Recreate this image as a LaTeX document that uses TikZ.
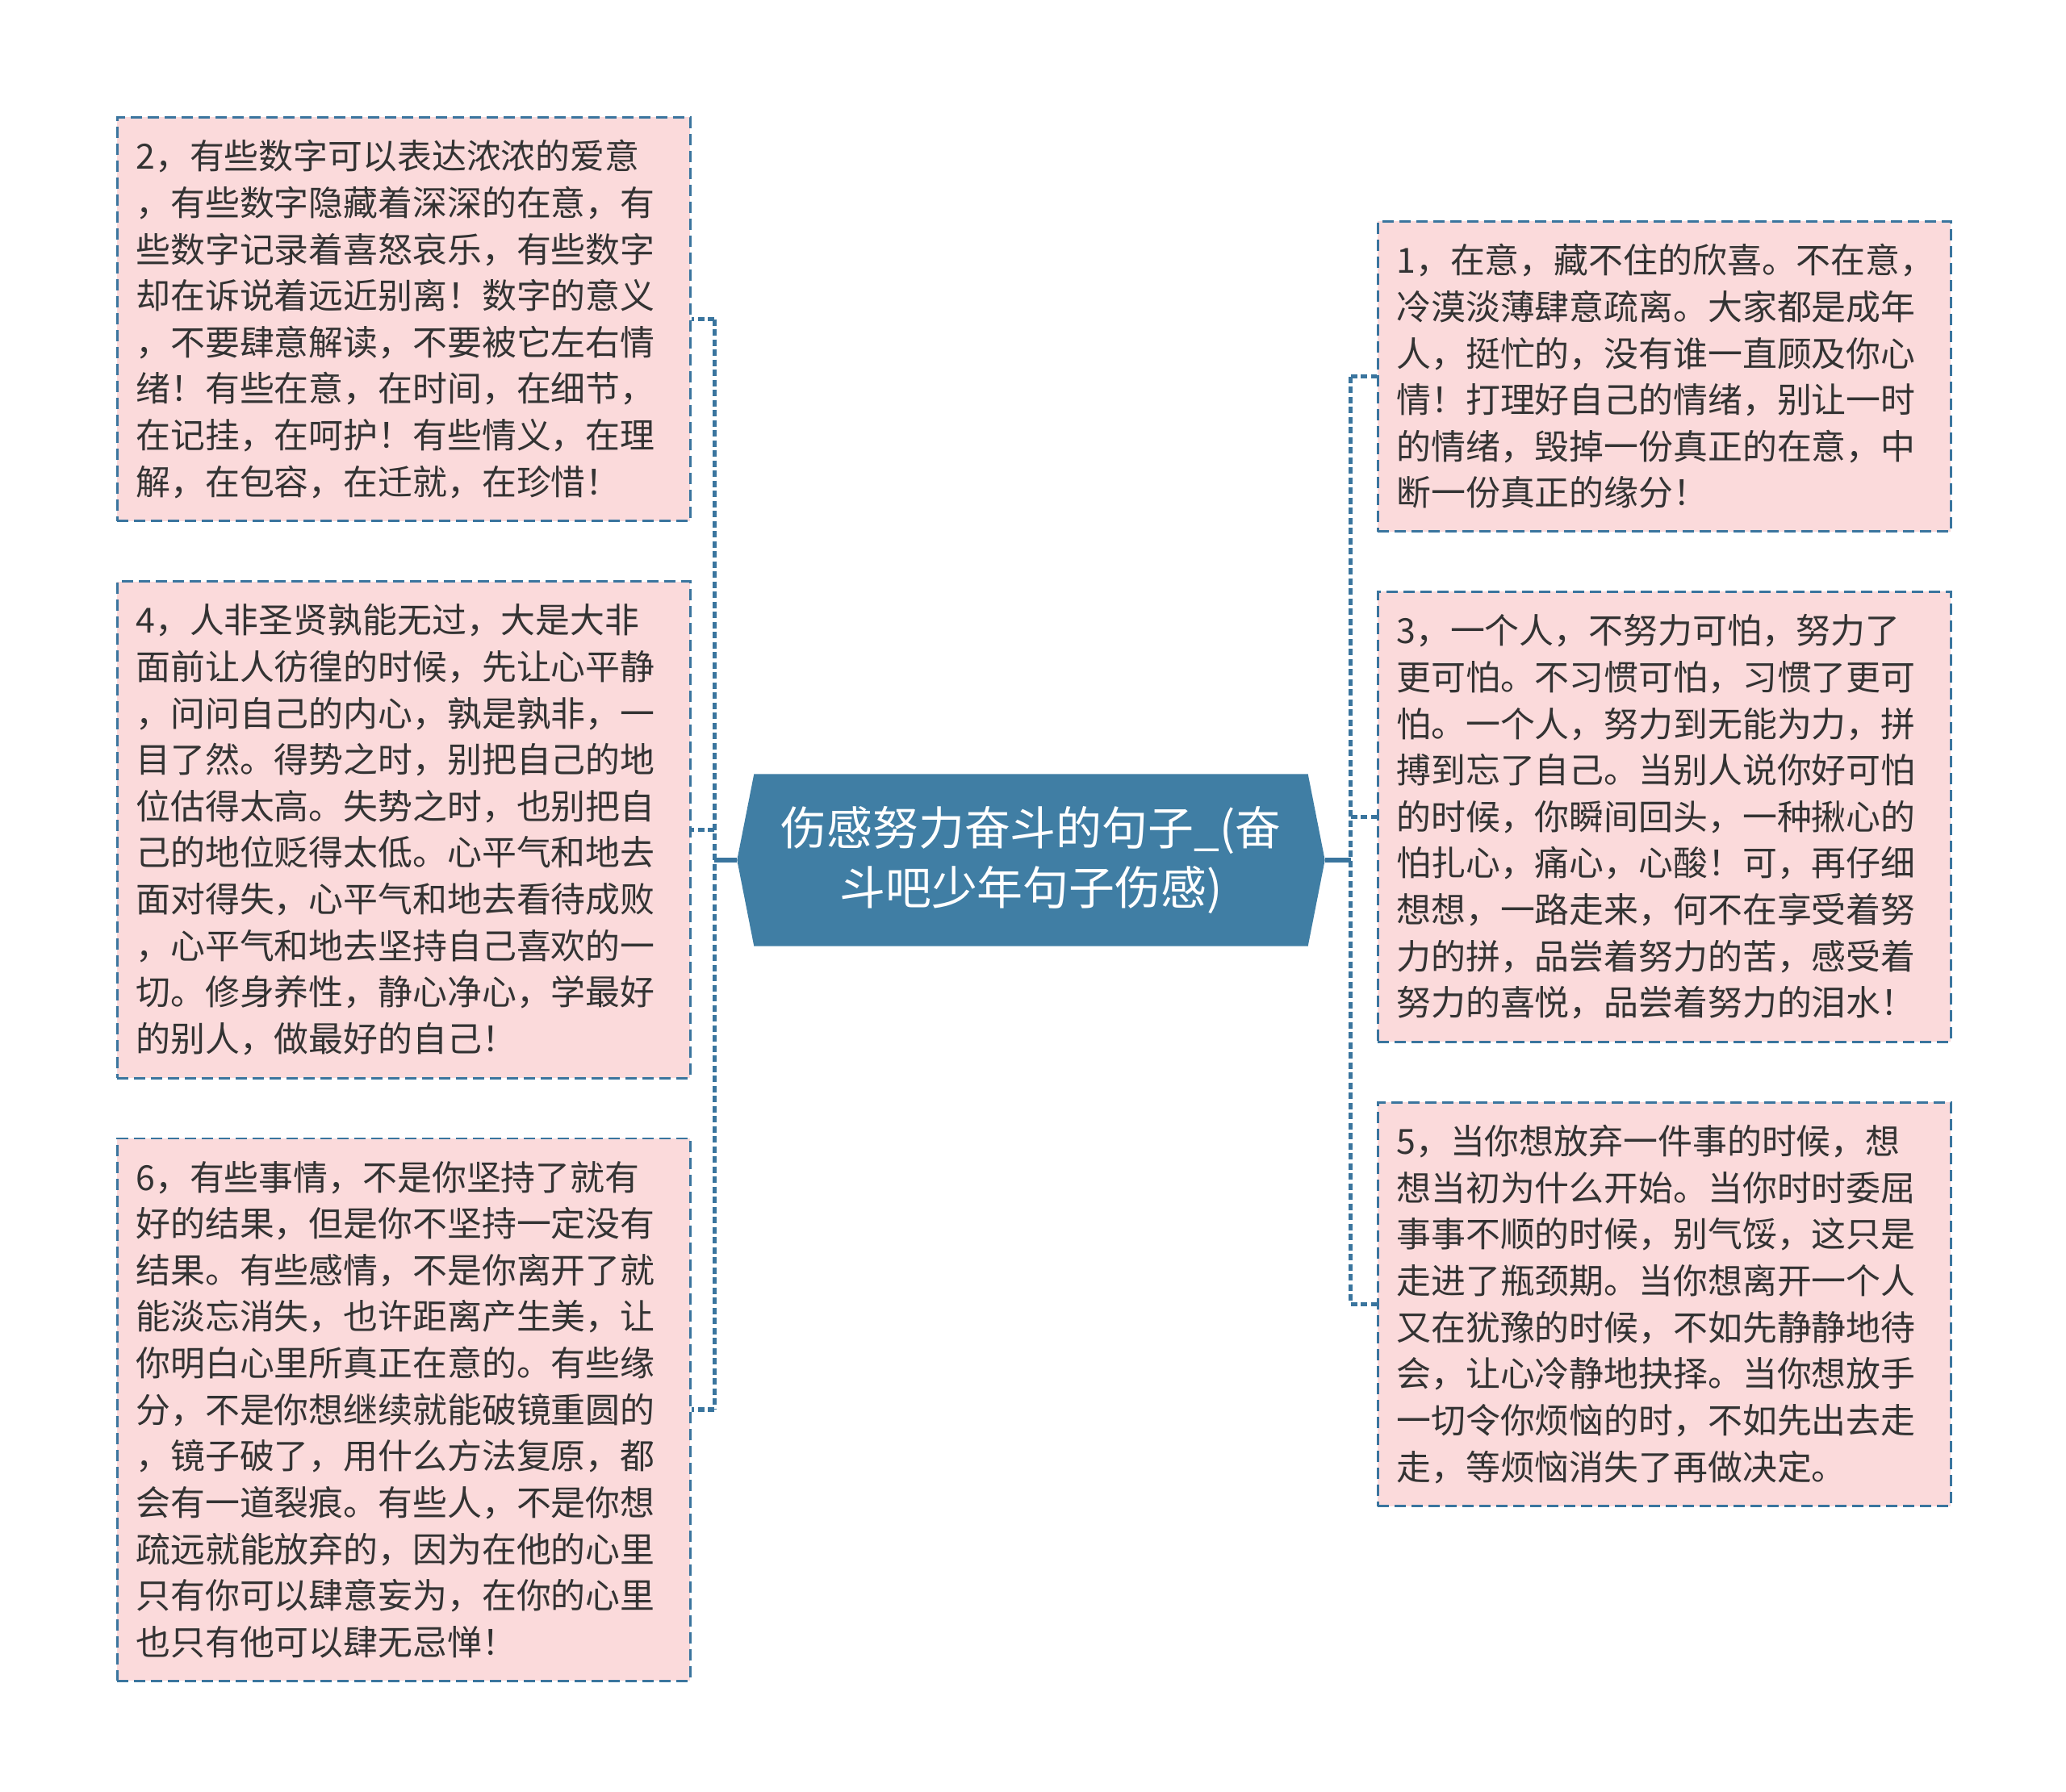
\documentclass[tikz,border=0pt]{standalone}
\usepackage{fontspec}
\setmainfont{Noto Sans CJK SC}
\usepackage{xcolor}
\usepackage{tikz}
\usetikzlibrary{positioning,backgrounds}
\definecolor{topicblue}{RGB}{64,126,164}
\definecolor{linkblue}{RGB}{58,117,158}
\definecolor{leafpink}{RGB}{251,218,219}
\definecolor{textdark}{RGB}{51,51,51}
\tikzset{
  leafbox/.style={draw=linkblue,fill=leafpink,text=textdark,line width=0.8pt,
                  dash pattern=on 0.14cm off 0.07cm,align=left,
                  text width=6.64cm,inner xsep=0.23cm,inner ysep=0.28cm,
                  font=\fontsize{12.2pt}{16.4pt}\selectfont},
  rootbox/.style={text=white,align=center,inner sep=0pt,
                  minimum width=7.27cm,minimum height=2.12cm,
                  font=\fontsize{16.2pt}{21.3pt}\selectfont},
  link/.style={draw=linkblue,line width=1.5pt,dash pattern=on 0.08cm off 0.045cm},
}

\begin{document}
\begin{tikzpicture}[node distance=0.72cm]
  \useasboundingbox (0,0) rectangle (25.6,-22.21);
  % centre topic
  \node[rootbox] (root) at (12.775,-10.66) {伤感努力奋斗的句子\_(奋\\斗吧少年句子伤感)};
  \begin{scope}[on background layer]
    \fill[topicblue] (root.west) -- ([xshift=0.21cm]root.north west)
      -- ([xshift=-0.21cm]root.north east) -- (root.east)
      -- ([xshift=-0.21cm]root.south east) -- ([xshift=0.21cm]root.south west) -- cycle;
  \end{scope}
  % left column
  \node[leafbox,anchor=north west] (b2) at (1.44,-1.44) {2，有些数字可以表达浓浓的爱意\\，有些数字隐藏着深深的在意，有\\些数字记录着喜怒哀乐，有些数字\\却在诉说着远近别离！数字的意义\\，不要肆意解读，不要被它左右情\\绪！有些在意，在时间，在细节，\\在记挂，在呵护！有些情义，在理\\解，在包容，在迁就，在珍惜！};
  \node[leafbox,below=of b2] (b4) {4，人非圣贤孰能无过，大是大非\\面前让人彷徨的时候，先让心平静\\，问问自己的内心，孰是孰非，一\\目了然。得势之时，别把自己的地\\位估得太高。失势之时，也别把自\\己的地位贬得太低。心平气和地去\\面对得失，心平气和地去看待成败\\，心平气和地去坚持自己喜欢的一\\切。修身养性，静心净心，学最好\\的别人，做最好的自己！};
  \node[leafbox,below=of b4] (b6) {6，有些事情，不是你坚持了就有\\好的结果，但是你不坚持一定没有\\结果。有些感情，不是你离开了就\\能淡忘消失，也许距离产生美，让\\你明白心里所真正在意的。有些缘\\分，不是你想继续就能破镜重圆的\\，镜子破了，用什么方法复原，都\\会有一道裂痕。有些人，不是你想\\疏远就能放弃的，因为在他的心里\\只有你可以肆意妄为，在你的心里\\也只有他可以肆无忌惮！};
  % right column
  \node[leafbox,anchor=north west] (b1) at (17.06,-2.73) {1，在意，藏不住的欣喜。不在意，\\冷漠淡薄肆意疏离。大家都是成年\\人，挺忙的，没有谁一直顾及你心\\情！打理好自己的情绪，别让一时\\的情绪，毁掉一份真正的在意，中\\断一份真正的缘分！};
  \node[leafbox,below=of b1] (b3) {3，一个人，不努力可怕，努力了\\更可怕。不习惯可怕，习惯了更可\\怕。一个人，努力到无能为力，拼\\搏到忘了自己。当别人说你好可怕\\的时候，你瞬间回头，一种揪心的\\怕扎心，痛心，心酸！可，再仔细\\想想，一路走来，何不在享受着努\\力的拼，品尝着努力的苦，感受着\\努力的喜悦，品尝着努力的泪水！};
  \node[leafbox,below=of b3] (b5) {5，当你想放弃一件事的时候，想\\想当初为什么开始。当你时时委屈\\事事不顺的时候，别气馁，这只是\\走进了瓶颈期。当你想离开一个人\\又在犹豫的时候，不如先静静地待\\会，让心冷静地抉择。当你想放手\\一切令你烦恼的时，不如先出去走\\走，等烦恼消失了再做决定。};
  % connectors
  \coordinate (ltrunk) at ([xshift=-0.28cm]root.west);
  \coordinate (rtrunk) at ([xshift=0.32cm]root.east);
  \draw[link,solid] (root.west) -- (ltrunk);
  \draw[link,solid] (root.east) -- (rtrunk);
  \draw[link] (ltrunk |- b2.east) -- (ltrunk |- b6.east);
  \draw[link] (rtrunk |- b1.west) -- (rtrunk |- b5.west);
  \foreach \b in {b2,b4,b6}
    \draw[link] (ltrunk |- \b.east) -- (\b.east);
  \foreach \b in {b1,b3,b5}
    \draw[link] (rtrunk |- \b.west) -- (\b.west);
\end{tikzpicture}
\end{document}
